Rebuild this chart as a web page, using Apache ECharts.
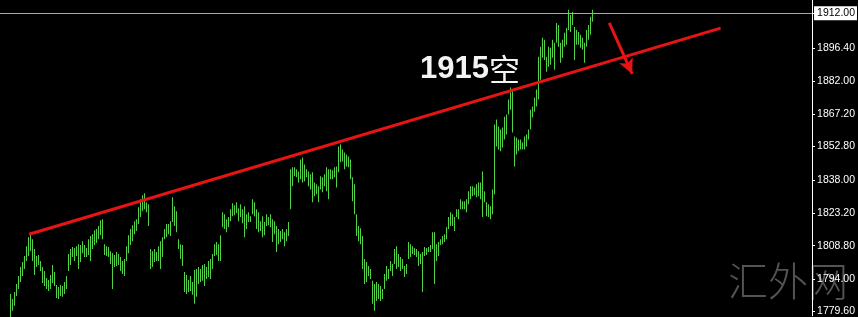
<!DOCTYPE html>
<html>
<head>
<meta charset="utf-8">
<script src="https://cdn.jsdelivr.net/npm/echarts@6/dist/echarts.min.js"></script>
<style>
html,body{margin:0;padding:0;background:#000;}
#chart{width:858px;height:317px;}
</style>
</head>
<body>
<div id="chart"></div>
<script>
// y-axis tick labels (MT4 style, uneven steps)
const tickLabels = [1912.00, 1896.40, 1882.00, 1867.20, 1852.80, 1838.00, 1823.20, 1808.80, 1794.00, 1779.60];
const currentPrice = 1912.00;
const yMin = 1777.68, yMax = 1917.88;

// bar highs / lows, one per bar (oldest first)
const highs = [
1787.4,1785.2,1788.3,1791.8,1795.4,1799.3,1801.6,1804.2,1808.6,1812.6,1813.9,
1811.7,1807.3,1804.2,1804.7,1802.0,1799.3,1797.6,1794.5,1793.6,1795.8,1800.2,1797.1,1791.4,1790.5,1791.4,1790.9,1792.7,1795.4,1805.1,1807.3,1808.2,1807.8,1808.6,1809.5,1809.1,1810.8,1809.1,1807.8,1811.7,1813.1,1813.9,1815.7,1816.2,1817.5,1820.1,
1820.6,1809.5,1808.6,1808.2,1806.4,1805.5,1804.7,1806.0,1805.1,1803.8,1802.0,1802.9,1808.6,1813.5,1816.2,1817.9,1819.7,1820.6,1825.9,1829.4,1831.2,1832.1,1828.1,1827.2,1807.3,1806.4,1807.3,1806.0,1808.6,1810.8,1812.6,1816.2,1815.7,1818.4,1818.4,1819.7,1830.3,1826.3,1824.1,1811.7,1809.5,1809.1,1797.1,1795.8,1793.6,1795.4,1792.7,1798.0,1798.5,1799.3,1798.5,1800.2,1800.7,1799.3,1802.0,1802.9,1805.1,1809.5,1810.4,
1809.5,1813.5,1823.7,1822.8,1820.6,1821.5,1825.0,1827.7,1826.8,1828.1,
1825.4,1827.2,1825.0,1826.3,1822.8,1823.7,1821.9,1829.4,1828.1,1825.0,
1823.7,1819.7,1821.9,1819.3,1822.8,1821.5,1822.8,1820.6,1819.7,1817.5,
1816.2,1815.3,1816.2,1814.8,1816.2,1819.3,1842.7,1843.6,1843.6,1842.7,
1841.8,1847.1,1848.0,1844.9,1842.7,1841.8,1840.5,1841.4,1836.9,1836.1,
1835.2,1839.6,1839.2,1840.5,1843.6,1842.7,1842.7,1842.3,1843.6,1844.0,
1852.9,1853.8,1851.5,1850.2,1849.3,1848.4,
1847.1,1839.2,1836.1,1822.8,1817.5,1816.6,1813.1,1802.9,1801.6,1799.8,
1798.5,1793.2,1791.8,1792.7,1791.8,1790.9,1789.6,1796.2,1799.8,1798.5,
1802.0,1800.7,1807.3,1808.6,1805.1,1803.8,1802.9,1799.8,1800.7,1810.4,
1809.5,1808.6,1807.8,1807.3,1806.4,1805.1,1806.0,1808.2,1807.8,1808.2,
1809.1,1814.8,1814.8,1809.5,1810.4,1811.7,1813.1,1813.9,1817.0,1821.5,
1823.7,1822.8,1821.5,1825.0,1825.0,1829.4,1828.5,1828.5,1829.4,1833.0,
1835.2,1835.2,1834.7,1836.1,1836.9,1836.9,1841.8,1833.0,1828.1,1827.2,
1826.3,1829.4,1833.8,1862.6,
1864.8,1861.7,1860.4,1861.3,1866.1,1867.0,1873.7,1879.0,1878.1,1857.3,
1856.8,1856.0,1856.0,1854.6,1857.3,1858.2,1860.4,1869.2,1870.6,1874.5,
1878.1,1892.7,1897.1,1901.1,1900.2,1892.7,1897.1,1896.7,1900.2,1898.9,
1907.7,1906.8,1898.9,1900.2,1903.3,1905.5,1913.5,1911.2,1912.6,1905.9,
1904.6,1903.7,1902.4,1901.1,1898.9,1904.6,1906.8,1910.4,1913.5
];
const lows = [
1777.2,1779.9,1782.1,1786.5,1789.6,1792.7,1795.4,1798.5,1802.0,1804.2,1806.4,
1802.0,1795.8,1799.3,1800.2,1797.6,1792.3,1790.9,1789.6,1788.7,1789.6,1792.3,1790.9,1785.6,1785.2,1786.5,1786.1,1787.4,1789.6,1797.6,1800.2,1803.8,1802.0,1804.2,1798.5,1801.6,1805.5,1803.8,1803.8,1804.7,1802.0,1807.3,1809.1,1810.0,1811.7,1813.5,
1811.7,1804.7,1804.2,1803.8,1800.7,1789.6,1799.3,1799.8,1800.2,1797.6,1796.2,1795.4,1802.0,1805.5,1809.1,1810.8,1813.9,1815.3,1818.4,1821.5,1824.1,1825.0,1823.7,1817.5,1798.5,1799.3,1801.6,1802.0,1802.0,1798.5,1803.8,1811.7,1812.6,1812.6,1813.9,1813.1,1819.3,1817.5,1814.8,1807.3,1802.9,1799.8,1788.3,1787.4,1788.3,1788.7,1787.0,1783.0,1786.1,1791.8,1792.7,1793.2,1790.9,1794.0,1794.9,1794.0,1798.5,1804.2,1804.7,
1802.0,1802.0,1817.0,1816.2,1814.8,1817.0,1819.7,1821.9,1822.3,1823.2,
1819.7,1821.5,1818.8,1812.6,1816.2,1819.3,1819.3,1822.8,1821.9,1816.2,
1814.8,1815.3,1812.6,1813.5,1817.5,1817.9,1817.0,1810.4,1813.9,1806.0,
1809.5,1810.4,1811.7,1808.6,1810.8,1813.1,1825.0,1835.2,1839.6,1839.2,
1836.9,1838.3,1836.9,1837.4,1839.2,1835.2,1833.8,1828.1,1830.8,1831.6,
1828.1,1833.8,1832.5,1835.2,1833.0,1829.4,1838.3,1838.3,1839.2,1834.7,
1841.4,1845.8,1846.2,1842.7,1844.0,1843.6,
1838.3,1828.5,1822.8,1813.1,1810.8,1809.5,1798.5,1791.8,1792.7,1795.4,
1794.0,1783.0,1779.9,1784.3,1785.2,1784.3,1785.2,1789.6,1793.2,1794.0,
1797.6,1795.4,1800.7,1798.5,1799.3,1797.6,1798.5,1794.9,1796.2,1802.9,
1803.8,1805.1,1804.7,1803.8,1799.8,1800.7,1788.3,1804.2,1804.7,1806.0,
1806.0,1807.3,1791.8,1802.0,1804.2,1809.1,1809.5,1810.4,1811.7,1816.2,
1817.5,1817.5,1815.3,1821.5,1820.6,1825.0,1825.0,1825.0,1823.7,1827.2,
1829.4,1830.8,1831.2,1830.3,1830.8,1829.4,1821.5,1828.1,1821.9,1821.5,
1820.6,1822.8,1829.4,1831.6,
1852.9,1851.5,1850.7,1852.4,1856.0,1858.2,1867.0,1869.2,1859.1,1844.0,
1849.3,1850.7,1851.5,1851.5,1851.5,1852.9,1856.0,1860.4,1865.7,1868.3,
1870.6,1873.7,1882.5,1892.2,1891.3,1886.0,1888.3,1889.1,1892.2,1886.9,
1898.9,1897.1,1890.0,1892.2,1897.1,1898.0,1904.6,1903.7,1906.8,1891.3,
1898.0,1898.0,1896.7,1895.8,1890.0,1897.1,1900.2,1902.4,1908.2
];

// hand-drawn trendline and arrow (bar index, price)
const trendX = [9.65, 357.5];
const trendY = [1813.9, 1905.4];
const arrowX = [301.5, 313.0];
const arrowY = [1907.7, 1885.1];

const annotation = '1915';
const annotationCn = '空';
const watermark = '汇外网';

const barColor = '#52d246';
const barData = highs.map((h, i) => [i, h, lows[i]]);
const trendData = trendX.map((x, i) => [x, trendY[i]]);

const chart = echarts.init(document.getElementById('chart'), null, {renderer: 'canvas'});
const axisFont = "'Liberation Sans Narrow', 'Arial Narrow', 'Liberation Sans', sans-serif";

chart.setOption({
  backgroundColor: '#000000',
  animation: false,
  grid: {left: 0, right: 41, top: 0, bottom: 0, containLabel: false},
  xAxis: {type: 'value', min: -5, max: 403.5, show: false},
  yAxis: {
    type: 'value', position: 'right', min: yMin, max: yMax,
    axisLine: {show: true, onZero: false, lineStyle: {color: '#ffffff', width: 1}},
    axisTick: {show: true, length: 3, customValues: tickLabels, lineStyle: {color: '#ffffff'}},
    axisLabel: {
      show: true, margin: 5, customValues: tickLabels,
      color: '#ffffff', fontSize: 10.5, fontFamily: axisFont,
      formatter: function (v) { return Math.abs(v - currentPrice) < 0.001 ? '' : v.toFixed(2); }
    },
    splitLine: {show: false}
  },
  series: [
    {
      type: 'custom',
      data: barData,
      encode: {x: 0, y: [1, 2]},
      itemStyle: {color: barColor},
      renderItem: function (params, api) {
        const x = api.value(0);
        const p1 = api.coord([x, api.value(1)]);
        const p2 = api.coord([x, api.value(2)]);
        // snap to the even pixel grid so every 1px bar lands on the same column parity
        const px = 2 * Math.round(p1[0] / 2);
        return {
          type: 'rect',
          shape: {x: px, y: p1[1], width: 1, height: Math.max(1, p2[1] - p1[1])},
          style: {fill: barColor, stroke: null, opacity: 1}
        };
      },
      markLine: {
        silent: true, symbol: 'none', animation: false,
        lineStyle: {color: '#a8a8a8', width: 1, type: 'solid'},
        label: {
          show: true, position: 'end', distance: 2,
          formatter: function () { return currentPrice.toFixed(2); },
          color: '#000000', backgroundColor: '#ffffff',
          padding: [2, 2, 1, 3], fontSize: 10.5, fontFamily: axisFont
        },
        data: [{yAxis: currentPrice}]
      },
      z: 3
    },
    {
      type: 'line',
      data: trendData,
      showSymbol: false,
      symbol: 'none',
      lineStyle: {color: '#e81414', width: 3},
      z: 4,
      markLine: {
        silent: true, animation: false,
        symbol: ['none', 'arrow'], symbolSize: [11, 15],
        lineStyle: {color: '#e81414', width: 3, type: 'solid'},
        label: {show: false},
        data: [[{coord: [arrowX[0], arrowY[0]]}, {coord: [arrowX[1], arrowY[1]]}]]
      }
    }
  ],
  graphic: [
    {
      type: 'text', left: 728, top: 261, z: -10, silent: true,
      style: {text: watermark, fill: '#545454', fontSize: 40, fontWeight: 300, fontFamily: "'Noto Sans CJK SC', sans-serif"}
    },
    {
      type: 'text', left: 420, top: 54, z: 100, silent: true,
      style: {
        text: '{a|' + annotation + '}{b|' + annotationCn + '}',
        rich: {
          a: {fill: '#f4f4f4', fontSize: 31, fontWeight: 'bold', fontFamily: "'Liberation Sans', Arial, sans-serif", lineHeight: 34},
          b: {fill: '#f4f4f4', fontSize: 31, fontFamily: "'Noto Sans CJK SC', sans-serif", lineHeight: 34}
        }
      }
    }
  ]
});
</script>
</body>
</html>
